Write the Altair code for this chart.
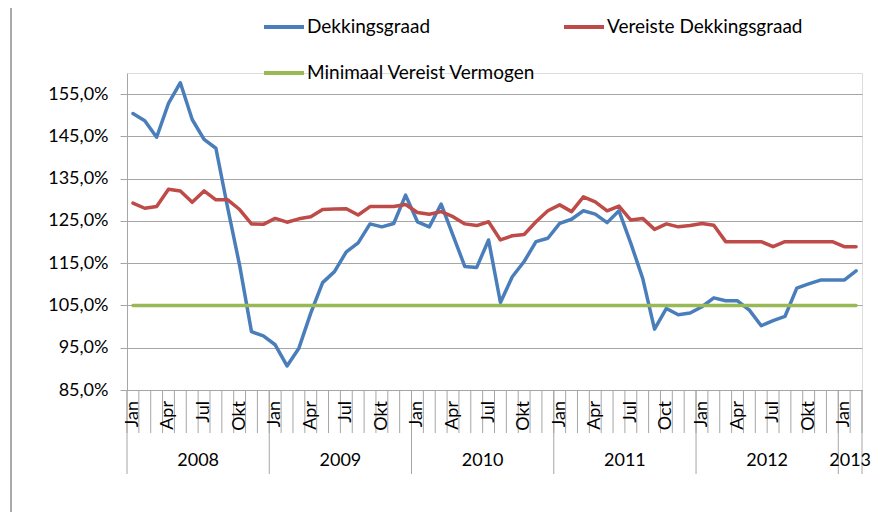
import altair as alt
import pandas as pd

# ---- data ----
series_names = ["Dekkingsgraad", "Vereiste Dekkingsgraad", "Minimaal Vereist Vermogen"]
series_colors = ["#4A7EBB", "#BE4B48", "#98B954"]

dekkingsgraad = [150.4, 148.7, 144.8, 152.8, 157.7, 149.0, 144.3, 142.2, 128.0, 114.5,
                 98.8, 97.8, 95.7, 90.7, 94.9, 103.2, 110.4, 113.0, 117.7, 119.8,
                 124.3, 123.6, 124.4, 131.1, 124.8, 123.6, 129.0, 121.6, 114.2, 114.0,
                 120.5, 105.7, 111.8, 115.4, 120.1, 120.9, 124.4, 125.4, 127.4, 126.6,
                 124.6, 127.4, 119.7, 111.4, 99.4, 104.3, 102.8, 103.2, 104.7, 106.8,
                 106.1, 106.1, 103.9, 100.2, 101.4, 102.4, 109.1, 110.1, 111.0, 111.0,
                 111.0, 113.2]
vereiste = [129.2, 128.0, 128.4, 132.5, 132.1, 129.4, 132.1, 130.0, 130.0, 127.7,
            124.3, 124.2, 125.6, 124.7, 125.5, 126.0, 127.7, 127.8, 127.9, 126.4,
            128.4, 128.4, 128.4, 128.9, 127.0, 126.6, 127.2, 126.0, 124.3, 123.9,
            124.8, 120.5, 121.5, 121.8, 124.8, 127.4, 128.8, 127.2, 130.7, 129.5,
            127.4, 128.5, 125.2, 125.6, 123.0, 124.3, 123.6, 123.9, 124.4, 124.0,
            120.1, 120.1, 120.1, 120.1, 118.9, 120.1, 120.1, 120.1, 120.1, 120.1,
            118.9, 118.9]
minimaal = [105.0] * 62

n_months = 62
month_labels = ["Jan", "Apr", "Jul", "Okt"] * 3 + ["Jan", "Apr", "Jul", "Oct"] + ["Jan", "Apr", "Jul", "Okt"] + ["Jan"]
month_label_idx = [0, 3, 6, 9, 12, 15, 18, 21, 24, 27, 30, 33, 36, 39, 42, 45, 48, 51, 54, 57, 60]
years = ["2008", "2009", "2010", "2011", "2012", "2013"]
year_start = [0, 12, 24, 36, 48, 60]
year_end = [12, 24, 36, 48, 60, 62]
y_ticks = [85, 95, 105, 115, 125, 135, 145, 155]

FONT = "Lato, 'Open Sans', sans-serif"
GRID = "#A6A6A6"

rows = []
for name, vals in zip(series_names, [dekkingsgraad, vereiste, minimaal]):
    for i, v in enumerate(vals):
        rows.append({"m": i + 0.5, "v": v, "serie": name})
df = pd.DataFrame(rows)

mdf = pd.DataFrame({"m": [i + 0.5 for i in month_label_idx], "lab": month_labels})
ydf = pd.DataFrame({"mid": [(a + b) / 2 for a, b in zip(year_start, year_end)], "year": years})
tickdf = pd.DataFrame({"b": list(range(n_months + 1))})
sepdf = pd.DataFrame({"b": year_start + [n_months]})

H = 317
xscale = alt.Scale(domain=[0, n_months], nice=False, zero=False)

lines = alt.Chart(df).mark_line(strokeWidth=3.5, strokeJoin="round", strokeCap="round").encode(
    x=alt.X("m:Q", scale=xscale,
            axis=alt.Axis(labels=False, ticks=False, grid=False, title=None,
                          domainColor=GRID, domainWidth=1)),
    y=alt.Y("v:Q", scale=alt.Scale(domain=[85, 160], nice=False, zero=False),
            axis=alt.Axis(values=y_ticks, grid=True, gridColor=GRID, gridWidth=1,
                          tickColor=GRID, tickSize=7, domainColor=GRID, title=None,
                          labelExpr="replace(format(datum.value, '.1f'), '.', ',') + '%'",
                          labelFont=FONT, labelFontSize=18, labelColor="#000000",
                          labelPadding=12)),
    color=alt.Color("serie:N", sort=series_names,
                    scale=alt.Scale(domain=series_names, range=series_colors),
                    legend=alt.Legend(orient="none", legendX=135, legendY=-68, columns=2,
                                      direction="horizontal", title=None,
                                      symbolType="stroke", symbolSize=1600,
                                      symbolStrokeWidth=4, labelFont=FONT,
                                      labelFontSize=19, labelColor="#000000",
                                      labelLimit=400, labelOffset=1,
                                      columnPadding=20, rowPadding=14)),
    order=alt.Order("m:Q"),
)

month_ticks = alt.Chart(tickdf).mark_rule(color=GRID, strokeWidth=1).encode(
    x=alt.X("b:Q", scale=xscale), y=alt.value(H), y2=alt.value(H + 43))
year_seps = alt.Chart(sepdf).mark_rule(color=GRID, strokeWidth=1).encode(
    x=alt.X("b:Q", scale=xscale), y=alt.value(H), y2=alt.value(H + 84))
month_text = alt.Chart(mdf).mark_text(angle=270, align="right", baseline="middle",
                                      font=FONT, fontSize=18, color="#000000").encode(
    x=alt.X("m:Q", scale=xscale), y=alt.value(H + 11), text="lab:N")
year_text = alt.Chart(ydf).mark_text(align="center", baseline="middle",
                                     font=FONT, fontSize=18, color="#000000").encode(
    x=alt.X("mid:Q", scale=xscale), y=alt.value(H + 71), text="year:N")

frame_df = pd.DataFrame({"k": [0]})
frame_top = alt.Chart(frame_df).mark_rule(color="#8C8C8C", strokeWidth=1.5).encode(
    x=alt.value(-119), x2=alt.value(755), y=alt.value(-67))
frame_left = alt.Chart(frame_df).mark_rule(color="#8C8C8C", strokeWidth=1.5).encode(
    x=alt.value(-116), y=alt.value(-67), y2=alt.value(460))

chart = alt.layer(frame_top, frame_left, month_ticks, year_seps, lines, month_text, year_text).properties(
    width=735, height=H,
    autosize=alt.AutoSizeParams(type="none"),
    padding={"left": 119, "top": 65, "right": 19, "bottom": 124},
).configure_view(stroke=None).configure(background="white")

chart.save("out.html", embed_options={"renderer": "svg", "actions": False})
